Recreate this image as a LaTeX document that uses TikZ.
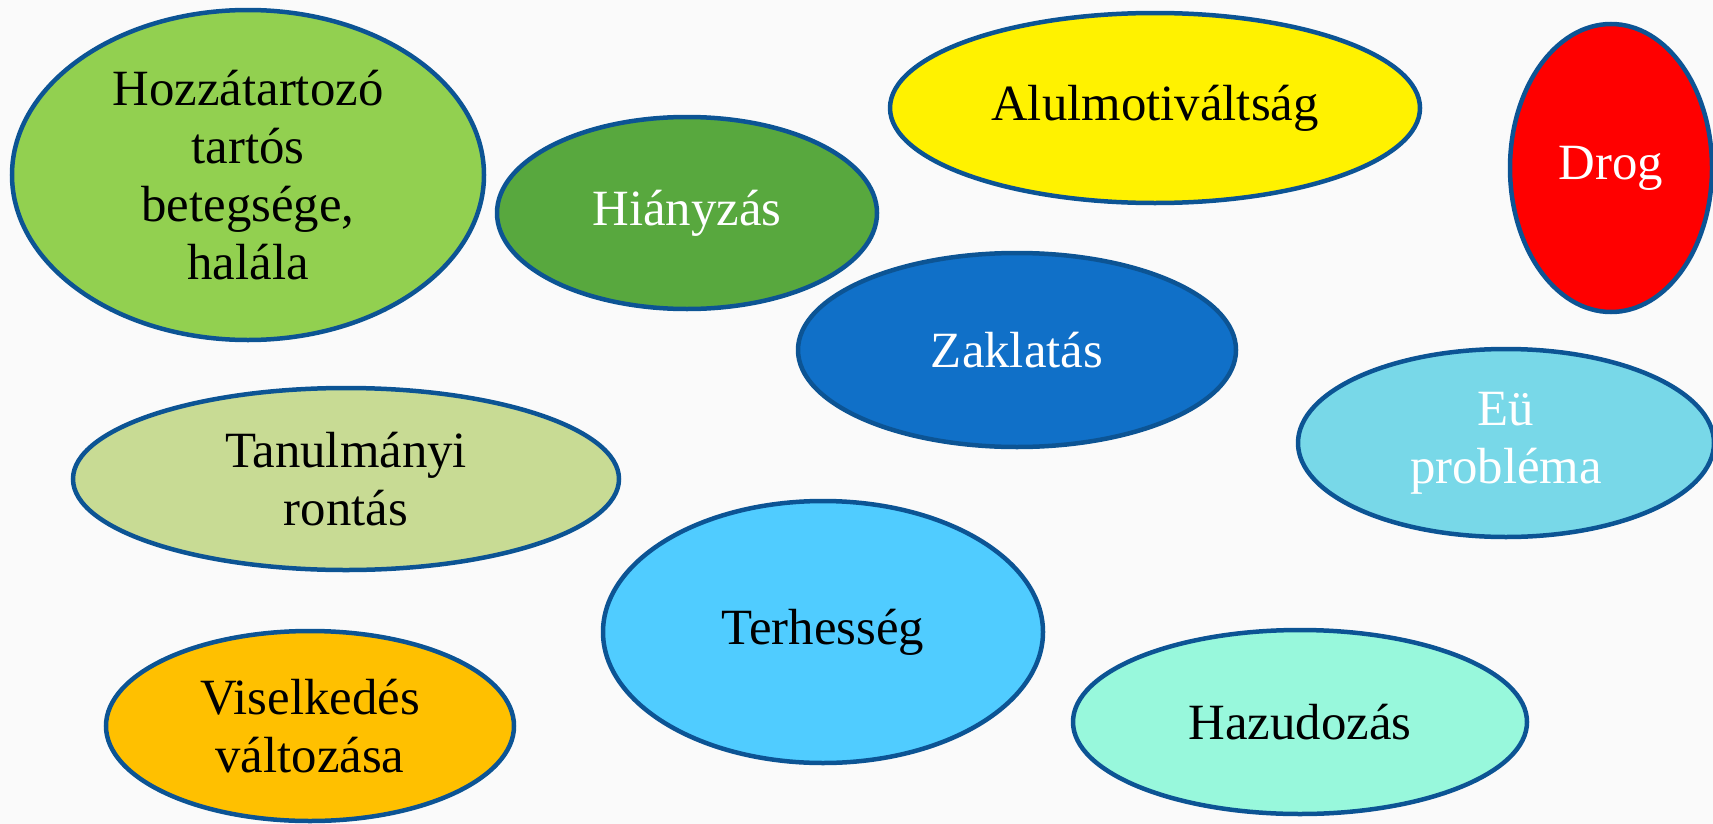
\documentclass[tikz,border=0pt]{standalone}
\usepackage{fontspec}
\setmainfont{Liberation Serif}
\usepackage{tikz}
\usetikzlibrary{shapes.geometric,positioning}

\definecolor{rim}{HTML}{0C5494}
\definecolor{lightgreen}{HTML}{92D050}
\definecolor{midgreen}{HTML}{58A83E}
\definecolor{paleolive}{HTML}{C8DB94}
\definecolor{strongblue}{HTML}{1070C8}
\definecolor{skyblue}{HTML}{50CCFF}
\definecolor{paleteal}{HTML}{78D8E8}
\definecolor{mint}{HTML}{98F8DC}
\definecolor{amber}{HTML}{FFC000}

\tikzset{
  blob/.style={ellipse, draw=rim, line width=4.5bp, inner sep=0pt, align=center,
               font=\fontsize{51}{58}\selectfont},
  size/.style 2 args={minimum width=#1, minimum height=#2}
}

\begin{document}
\begin{tikzpicture}
	\fill[white!98!black] (0bp,0bp) rectangle (1713bp,-824bp);
	\useasboundingbox (0bp,0bp) rectangle (1713bp,-824bp);
	\clip (0bp,0bp) rectangle (1713bp,-824bp);

	\node (hozza) at (248bp,-175bp)  [blob, fill=lightgreen, size={472bp}{330bp}] {Hozzátartozó\\tartós\\betegsége,\\halála};
	\node (hiany) at (687bp,-213bp)  [blob, fill=midgreen, text=white, size={380bp}{192bp}] {Hiányzás};
	\node (alul)  at (1155bp,-108bp) [blob, fill=yellow, size={530bp}{190bp}] {Alulmotiváltság};
	\node (drog)  at (1611bp,-168bp) [blob, fill=red, text=white, size={202bp}{288bp}] {Drog};
	\node (zakl)  at (1017bp,-350bp) [blob, fill=strongblue, text=white, size={438bp}{194bp}] {Zaklatás};
	\node (eu)    at (1506bp,-443bp) [blob, fill=paleteal, text=white, size={416bp}{188bp}] {Eü\\probléma};
	\node (tanul) at (346bp,-479bp)  [blob, fill=paleolive, size={546bp}{182bp}] {Tanulmányi\\rontás};
	\node (terh)  at (823bp,-632bp)  [blob, fill=skyblue, size={440bp}{262bp}] {Terhesség};
	\node (hazud) at (1300bp,-722bp) [blob, fill=mint, size={454bp}{184bp}] {Hazudozás};
	\node (visel) at (310bp,-726bp)  [blob, fill=amber, size={408bp}{190bp}] {Viselkedés\\változása};
\end{tikzpicture}
\end{document}
